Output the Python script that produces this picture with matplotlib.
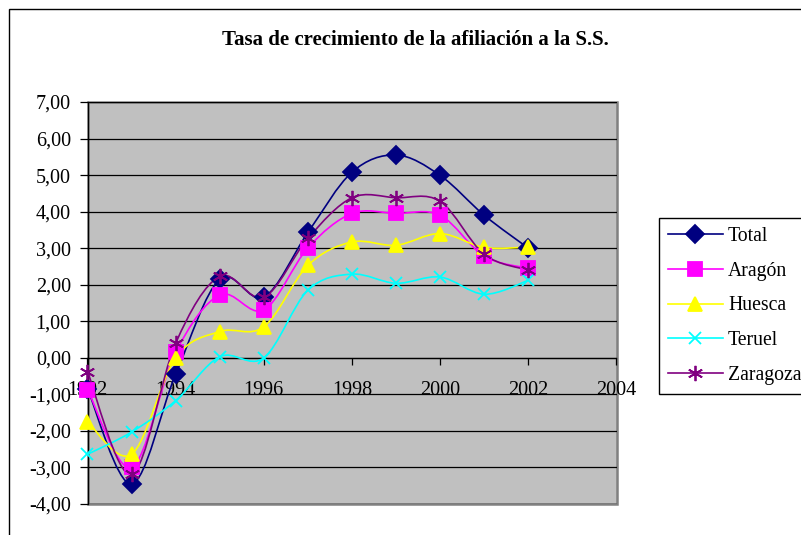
import matplotlib
matplotlib.use("Agg")
import matplotlib.pyplot as plt
import numpy as np
from matplotlib.path import Path
from matplotlib.patches import PathPatch, Rectangle
from matplotlib.lines import Line2D
from matplotlib.ticker import FuncFormatter, MultipleLocator

years = [1992, 1993, 1994, 1995, 1996, 1997, 1998, 1999, 2000, 2001, 2002]
total = [-0.85, -3.45, -0.45, 2.15, 1.66, 3.43, 5.08, 5.55, 4.99, 3.90, 3.00]
aragon = [-0.87, -3.00, 0.15, 1.72, 1.31, 3.01, 3.95, 3.95, 3.90, 2.78, 2.45]
huesca = [-1.75, -2.64, 0.00, 0.72, 0.85, 2.53, 3.17, 3.08, 3.40, 3.02, 3.03]
teruel = [-2.64, -2.03, -1.17, 0.03, 0.00, 1.85, 2.29, 2.04, 2.21, 1.74, 2.12]
zaragoza = [-0.38, -3.19, 0.40, 2.23, 1.66, 3.27, 4.38, 4.38, 4.28, 2.83, 2.40]

series = [
    ("Total", total, "#000080", "D", 9.5),
    ("Aragón", aragon, "#FF00FF", "s", 9.5),
    ("Huesca", huesca, "#FFFF00", "^", 10.5),
    ("Teruel", teruel, "#00FFFF", "x", 9),
    ("Zaragoza", zaragoza, "#800080", (6, 2, 0), 11),
]

SERIF = "Liberation Serif"
BG = "#C0C0C0"


def smooth_path(xs, ys):
    """Excel-like smoothed line: cubic Bezier through the points."""
    pts = np.column_stack([xs, ys]).astype(float)
    n = len(pts)
    verts = [pts[0]]
    codes = [Path.MOVETO]
    for i in range(n - 1):
        p0 = pts[max(i - 1, 0)]
        p1 = pts[i]
        p2 = pts[i + 1]
        p3 = pts[min(i + 2, n - 1)]
        c1 = p1 + (p2 - p0) / 6.0
        c2 = p2 - (p3 - p1) / 6.0
        verts += [c1, c2, p2]
        codes += [Path.CURVE4] * 3
    return Path(verts, codes)


fig = plt.figure(figsize=(8.01, 5.35), dpi=100)
fig.patch.set_facecolor("white")

# chart area border (extends beyond the image on right and bottom)
fig.patches.append(Rectangle((9 / 801, -0.2), 1.2, 1.2 - 9 / 535,
                             transform=fig.transFigure, fill=False,
                             edgecolor="black", linewidth=1.0))

ax = fig.add_axes([87.5 / 801, 31 / 535, 529 / 801, 402 / 535])
ax.set_facecolor(BG)
ax.set_xlim(1992, 2004)
ax.set_ylim(-4, 7)

for name, vals, color, marker, ms in series:
    ax.add_patch(PathPatch(smooth_path(years, vals), fill=False,
                           edgecolor=color, linewidth=1.2, zorder=3))
    ax.plot(years, vals, linestyle="none", marker=marker, markersize=ms,
            color=color, markeredgecolor=color, markeredgewidth=1.3,
            zorder=4, clip_on=False)

ax.yaxis.set_major_locator(MultipleLocator(1))
ax.xaxis.set_major_locator(MultipleLocator(2))
ax.yaxis.set_major_formatter(FuncFormatter(lambda v, p: f"{v:.2f}".replace(".", ",")))
ax.xaxis.set_major_formatter(FuncFormatter(lambda v, p: f"{int(v)}"))
ax.grid(axis="y", color="black", linewidth=0.9, zorder=1)
ax.set_axisbelow(True)

for side in ["top", "right"]:
    ax.spines[side].set_visible(False)
ax.spines["bottom"].set_position(("data", 0))
ax.spines["bottom"].set_color("black")
ax.spines["bottom"].set_linewidth(0.9)
ax.spines["left"].set_color("black")
ax.spines["left"].set_linewidth(0.9)
ax.add_patch(Rectangle((0, 0), 1, 1, transform=ax.transAxes, fill=False,
                       edgecolor="#808080", linewidth=1.8, zorder=0.5,
                       clip_on=False))

ax.tick_params(axis="y", direction="out", length=6, width=0.9, pad=6,
               labelsize=14.5, labelfontfamily=SERIF)
ax.tick_params(axis="x", direction="out", length=5, width=0.9, pad=12,
               labelsize=14.5, labelfontfamily=SERIF)

fig.text(415 / 801, 1 - 40 / 535, "Tasa de crecimiento de la afiliación a la S.S.",
         ha="center", va="center", fontsize=15, fontweight="bold", family=SERIF)

handles = [Line2D([], [], color=c, linewidth=1.2, marker=m, markersize=ms,
                  markeredgecolor=c, markeredgewidth=1.3)
           for _, _, c, m, ms in series]
labels = [s[0] for s in series]
leg = fig.legend(handles, labels, loc="upper left",
                 bbox_to_anchor=(659 / 801, 1 - 218 / 535),
                 prop={"family": SERIF, "size": 14.2}, frameon=True,
                 fancybox=False, edgecolor="black", framealpha=1,
                 borderpad=0.45, labelspacing=0.8, handlelength=2.8,
                 handletextpad=0.25, borderaxespad=0)
leg.get_frame().set_linewidth(1.0)

fig.savefig("out.png", dpi=100)
